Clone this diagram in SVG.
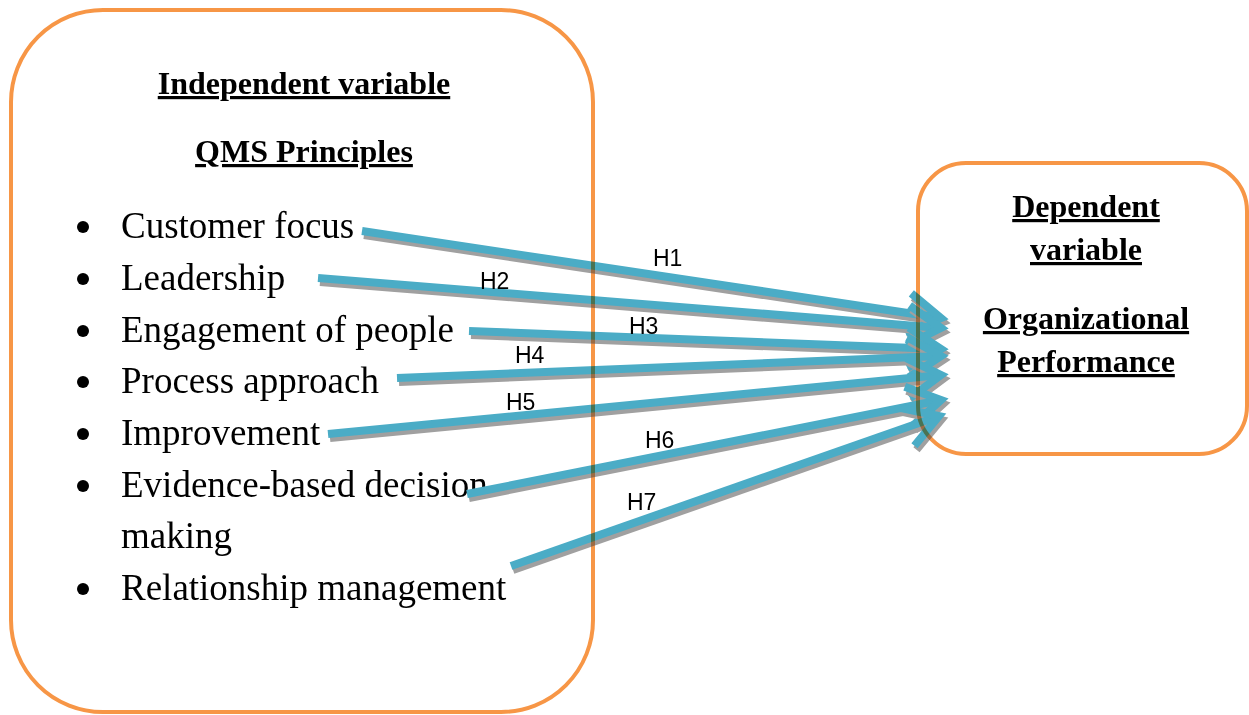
<svg xmlns="http://www.w3.org/2000/svg" xmlns:xlink="http://www.w3.org/1999/xlink" width="1249" height="715" viewBox="0 0 1249 715">
  <style>
    .box { fill: #ffffff; stroke: #F79646; stroke-width: 4; }
    .head { font-family: "Liberation Serif", "Times New Roman", serif; font-weight: bold; font-size: 32px; text-anchor: middle; text-decoration: underline; fill: #000; }
    .item { font-family: "Liberation Serif", "Times New Roman", serif; font-size: 37px; fill: #000; }
    .bullet { fill: #000; }
    .lbl { font-family: "Liberation Sans", Arial, sans-serif; font-size: 23px; fill: #000; }
    .shaft { fill: none; stroke-width: 8; stroke-linecap: butt; }
    .blue { stroke: #4BACC6; marker-end: url(#headBlue); }
    .grey { stroke: #A0A0A0; marker-end: url(#headGrey); }
    .white { stroke: #ffffff; marker-end: url(#headWhite); }
  </style>
  <defs>
    <marker id="headBlue" markerUnits="userSpaceOnUse" orient="auto" refX="0" refY="0" markerWidth="70" markerHeight="70" viewBox="-50 -35 70 70" overflow="visible">
      <path d="M -33,-20 L 0,0 L -33,20" fill="none" stroke="#4BACC6" stroke-width="8" stroke-linejoin="miter"/>
    </marker>
    <marker id="headGrey" markerUnits="userSpaceOnUse" orient="auto" refX="0" refY="0" markerWidth="70" markerHeight="70" viewBox="-50 -35 70 70" overflow="visible">
      <path d="M -33,-20 L 0,0 L -33,20" fill="none" stroke="#A0A0A0" stroke-width="8" stroke-linejoin="miter"/>
    </marker>
    <marker id="headWhite" markerUnits="userSpaceOnUse" orient="auto" refX="0" refY="0" markerWidth="70" markerHeight="70" viewBox="-50 -35 70 70" overflow="visible">
      <path d="M -33,-20 L 0,0 L -33,20" fill="none" stroke="#ffffff" stroke-width="8" stroke-linejoin="miter"/>
    </marker>
    <!-- hypothesis arrows, from each principle to the dependent variable -->
    <path id="h1" d="M 362,231 L 941,318"/>
    <path id="h2" d="M 318,278 L 941,328"/>
    <path id="h3" d="M 469,331 L 941,349"/>
    <path id="h4" d="M 397,378 L 941,356"/>
    <path id="h5" d="M 328,434 L 941,375"/>
    <path id="h6" d="M 467,494 L 941,400"/>
    <path id="h7" d="M 511,566 L 939,416"/>
    <!-- where the arrows lie over the box outlines -->
    <mask id="overArrows" maskUnits="userSpaceOnUse" x="0" y="0" width="1249" height="715">
      <g class="shaft white">
        <use xlink:href="#h1"/><use xlink:href="#h2"/><use xlink:href="#h3"/><use xlink:href="#h4"/>
        <use xlink:href="#h5"/><use xlink:href="#h6"/><use xlink:href="#h7"/>
      </g>
      <g class="shaft white" transform="translate(2,4)">
        <use xlink:href="#h1"/><use xlink:href="#h2"/><use xlink:href="#h3"/><use xlink:href="#h4"/>
        <use xlink:href="#h5"/><use xlink:href="#h6"/><use xlink:href="#h7"/>
      </g>
    </mask>
  </defs>

  <rect width="1249" height="715" fill="#ffffff"/>

  <g id="independent">
    <rect class="box" x="11" y="10" width="582" height="702" rx="92" ry="92"/>
    <text class="head" x="304" y="94">Independent variable</text>
    <text class="head" x="304" y="162">QMS Principles</text>
    <circle class="bullet" cx="83" cy="227" r="6"/>
    <text class="item" x="121" y="238">Customer focus</text>
    <circle class="bullet" cx="83" cy="279" r="6"/>
    <text class="item" x="121" y="290">Leadership</text>
    <circle class="bullet" cx="83" cy="331" r="6"/>
    <text class="item" x="121" y="342">Engagement of people</text>
    <circle class="bullet" cx="83" cy="382" r="6"/>
    <text class="item" x="121" y="393">Process approach</text>
    <circle class="bullet" cx="83" cy="434" r="6"/>
    <text class="item" x="121" y="445">Improvement</text>
    <circle class="bullet" cx="83" cy="486" r="6"/>
    <text class="item" x="121" y="497">Evidence-based decision</text>
    <text class="item" x="121" y="548">making</text>
    <circle class="bullet" cx="83" cy="589" r="6"/>
    <text class="item" x="121" y="600">Relationship management</text>
  </g>

  <g id="dependent">
    <rect class="box" x="918" y="163" width="329" height="291" rx="48" ry="48"/>
    <text class="head" x="1086" y="217">Dependent</text>
    <text class="head" x="1086" y="260">variable</text>
    <text class="head" x="1086" y="329">Organizational</text>
    <text class="head" x="1086" y="372">Performance</text>
  </g>

  <g id="connectors" class="shaft">
    <!-- each arrow is laid down with its own drop shadow, top to bottom -->
    <use xlink:href="#h1" class="grey" transform="translate(2,4)"/><use xlink:href="#h1" class="blue"/>
    <use xlink:href="#h2" class="grey" transform="translate(2,4)"/><use xlink:href="#h2" class="blue"/>
    <use xlink:href="#h3" class="grey" transform="translate(2,4)"/><use xlink:href="#h3" class="blue"/>
    <use xlink:href="#h4" class="grey" transform="translate(2,4)"/><use xlink:href="#h4" class="blue"/>
    <use xlink:href="#h5" class="grey" transform="translate(2,4)"/><use xlink:href="#h5" class="blue"/>
    <use xlink:href="#h6" class="grey" transform="translate(2,4)"/><use xlink:href="#h6" class="blue"/>
    <use xlink:href="#h7" class="grey" transform="translate(2,4)"/><use xlink:href="#h7" class="blue"/>
  </g>
  <!-- box outlines showing through the arrows -->
  <g mask="url(#overArrows)" style="mix-blend-mode:multiply" opacity="0.8">
    <rect x="11" y="10" width="582" height="702" rx="92" ry="92" fill="none" stroke="#F79646" stroke-width="4"/>
    <rect x="918" y="163" width="329" height="291" rx="48" ry="48" fill="none" stroke="#F79646" stroke-width="4"/>
  </g>
  <g id="labels">
    <text class="lbl" x="653" y="266">H1</text>
    <text class="lbl" x="480" y="289">H2</text>
    <text class="lbl" x="629" y="334">H3</text>
    <text class="lbl" x="515" y="363">H4</text>
    <text class="lbl" x="506" y="410">H5</text>
    <text class="lbl" x="645" y="448">H6</text>
    <text class="lbl" x="627" y="510">H7</text>
  </g>
</svg>
